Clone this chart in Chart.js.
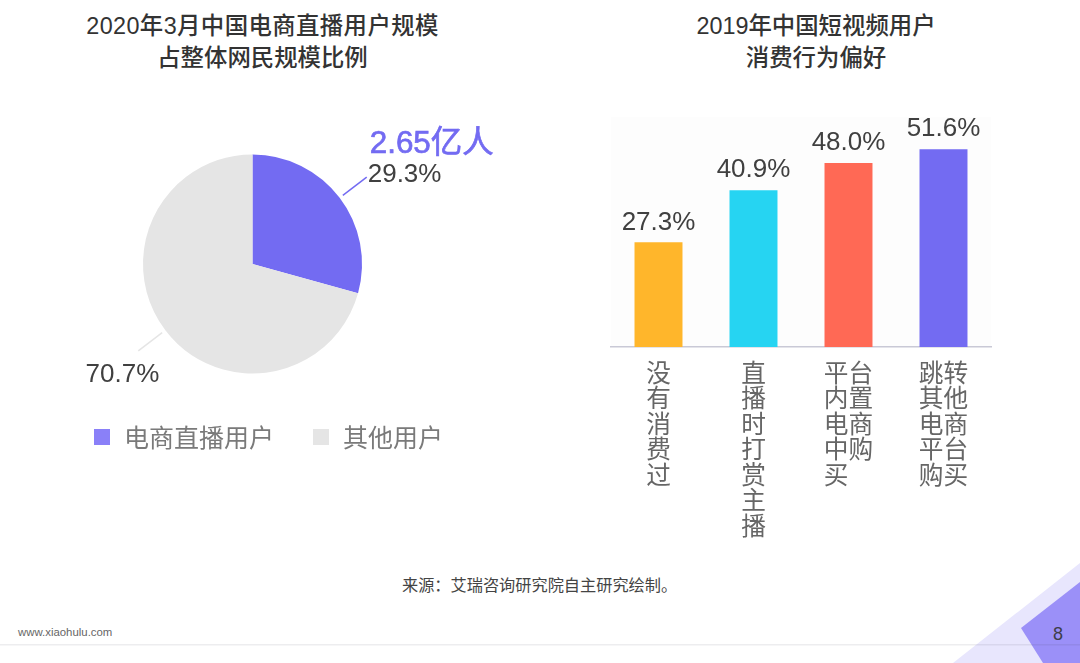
<!DOCTYPE html>
<html lang="zh">
<head>
<meta charset="utf-8">
<title>电商直播与短视频用户</title>
<script src="https://cdn.jsdelivr.net/npm/chart.js@4"></script>
<style>
  html, body { margin: 0; padding: 0; background: #fff; }
  #page {
    position: relative; width: 1080px; height: 663px; overflow: hidden; background: #fff;
    font-family: "Liberation Sans", "Noto Sans CJK SC", sans-serif;
  }
  #page canvas { position: absolute; }
  .title {
    position: absolute; top: 10px; width: 500px; text-align: center;
    font-size: 23.4px; line-height: 32px; font-weight: 500; color: #333;
    font-family: "Liberation Sans", "Noto Sans CJK SC", sans-serif;
  }
  #legend { position: absolute; left: 94px; top: 421px; height: 34px; font-size: 25px; line-height: 34px; color: #7a7a7a; }
  #legend span { position: absolute; white-space: nowrap; }
  #legend i { position: absolute; top: 8px; width: 16px; height: 16px; }
  #source { position: absolute; left: 402px; top: 574px; font-size: 16.2px; line-height: 22px; color: #444; white-space: nowrap; }
  #site { position: absolute; left: 18px; top: 625px; font-size: 11.4px; line-height: 14px; color: #666; }
  #pageNo { position: absolute; left: 1053px; top: 622px; font-size: 18px; line-height: 24px; color: #3d3d4a; }
  #deco { position: absolute; left: 0; top: 0; }
</style>
</head>
<body>
<div id="page">
  <svg id="deco" width="1080" height="663">
    <polygon points="1080,563 1080,663 953,663" fill="#e8e6fd"/>
    <polygon points="1021,628 1080,582 1080,663 1043,663" fill="#9b90f8"/>
    <rect x="0" y="644" width="1080" height="1.5" fill="rgba(60,60,80,0.09)"/>
  </svg>
  <div class="title" style="left:12.5px"><span style="letter-spacing:0.4px">2020年3月中国电商直播用户规模</span><br>占整体网民规模比例</div>
  <div class="title" style="left:566px">2019年中国短视频用户<br>消费行为偏好</div>
  <canvas id="pieChart" width="540" height="480" style="left:0;top:0"></canvas>
  <canvas id="barChart" width="520" height="480" style="left:560px;top:90px"></canvas>
  <div id="legend"></div>
  <div id="source">来源：艾瑞咨询研究院自主研究绘制。</div>
  <div id="site">www.xiaohulu.com</div>
  <div id="pageNo">8</div>
</div>

<script>
// ========== DATA ========== //
const pieLabels = ["电商直播用户", "其他用户"];
const pieValues = [29.3, 70.7];
const pieColors = ["#736bf2", "#e5e5e5"];
const pieCallout = "2.65亿人";

// the trailing ideographic space keeps the lone 买 flush left under 中购
const barLabels = [
  ["没", "有", "消", "费", "过"],
  ["直", "播", "时", "打", "赏", "主", "播"],
  ["平台", "内置", "电商", "中购", "买　"],
  ["跳转", "其他", "电商", "平台", "购买"]
];
const barValues = [27.3, 40.9, 48.0, 51.6];
const barColors = ["#ffb62b", "#26d4f2", "#ff6955", "#736bf2"];

const FONT = '"Liberation Sans", "Noto Sans CJK SC", sans-serif';
const pct = v => v.toFixed(1) + "%";

// ========== PIE ========== //
// leader lines and percent labels, placed from the arc geometry
const pieLabelPlugin = {
  id: "pieLabels",
  afterDatasetsDraw(chart) {
    const ctx = chart.ctx;
    const arcs = chart.getDatasetMeta(0).data;
    ctx.save();
    arcs.forEach((arc, i) => {
      const mid = (arc.startAngle + arc.endAngle) / 2;
      const dx = Math.cos(mid), dy = Math.sin(mid);
      const endX = arc.x + dx * (arc.outerRadius + 34);
      const endY = arc.y + dy * (arc.outerRadius + 34);
      ctx.strokeStyle = pieColors[i];
      ctx.lineWidth = 1.5;
      ctx.beginPath();
      ctx.moveTo(arc.x + dx * (arc.outerRadius + 4), arc.y + dy * (arc.outerRadius + 4));
      ctx.lineTo(endX, endY);
      ctx.stroke();

      ctx.font = "26px " + FONT;
      ctx.fillStyle = "#404040";
      ctx.textBaseline = "middle";
      if (dx > 0) {
        ctx.textAlign = "left";
        ctx.fillText(pct(pieValues[i]), endX + 1, endY - 2);
        ctx.font = "31.4px " + FONT;
        ctx.fillStyle = pieColors[i];
        ctx.strokeStyle = pieColors[i];
        ctx.lineWidth = 0.7;
        ctx.fillText(pieCallout, endX + 3, endY - 33);
        ctx.strokeText(pieCallout, endX + 3, endY - 33);
      } else {
        ctx.textAlign = "right";
        ctx.fillText(pct(pieValues[i]), endX + 21, endY + 24);
      }
    });
    ctx.restore();
  }
};

new Chart(document.getElementById("pieChart"), {
  type: "pie",
  data: {
    labels: pieLabels,
    datasets: [{ data: pieValues, backgroundColor: pieColors, borderWidth: 0 }]
  },
  options: {
    responsive: false,
    animation: false,
    devicePixelRatio: 1,
    layout: { padding: { left: 143, right: 178, top: 154.5, bottom: 106.5 } },
    plugins: { legend: { display: false }, tooltip: { enabled: false } }
  },
  plugins: [pieLabelPlugin]
});

// legend sits under the pie, two items at fixed spots
const legendX = [0, 219];
const legendEl = document.getElementById("legend");
pieLabels.forEach((name, i) => {
  const box = document.createElement("i");
  box.style.left = legendX[i] + "px";
  box.style.background = i === 0 ? "#8a80f8" : pieColors[i];
  const text = document.createElement("span");
  text.style.left = legendX[i] + 30 + "px";
  text.textContent = name;
  legendEl.append(box, text);
});

// ========== BARS ========== //
const barPlugin = {
  id: "barExtras",
  beforeDraw(chart) {
    const { ctx, chartArea: a } = chart;
    ctx.save();
    ctx.fillStyle = "#fdfdfd";
    ctx.fillRect(a.left, a.top, a.right - a.left, a.bottom - a.top);
    ctx.restore();
  },
  afterDatasetsDraw(chart) {
    const ctx = chart.ctx;
    ctx.save();
    ctx.font = "26px " + FONT;
    ctx.fillStyle = "#404040";
    ctx.textAlign = "center";
    ctx.textBaseline = "middle";
    chart.getDatasetMeta(0).data.forEach((bar, i) => {
      ctx.fillText(pct(barValues[i]), bar.x, bar.y - 20);
    });
    ctx.restore();
  }
};

new Chart(document.getElementById("barChart"), {
  type: "bar",
  data: {
    labels: barLabels,
    datasets: [{
      data: barValues,
      backgroundColor: barColors,
      borderWidth: 0,
      categoryPercentage: 1,
      barPercentage: 0.505
    }]
  },
  options: {
    responsive: false,
    animation: false,
    devicePixelRatio: 1,
    layout: { padding: { left: 51, right: 89, top: 27, bottom: 0 } },
    scales: {
      x: {
        afterFit: scale => { scale.height = 223; },
        grid: { display: false, drawTicks: false },
        border: { color: "#c9c9d6", width: 1.5 },
        ticks: {
          autoSkip: false,
          maxRotation: 0,
          minRotation: 0,
          padding: 15,
          color: "#666",
          font: { family: FONT, size: 24.7, lineHeight: 1.035 }
        }
      },
      y: { display: false, min: 0, max: 60 }
    },
    plugins: { legend: { display: false }, tooltip: { enabled: false } }
  },
  plugins: [barPlugin]
});
</script>
</body>
</html>
